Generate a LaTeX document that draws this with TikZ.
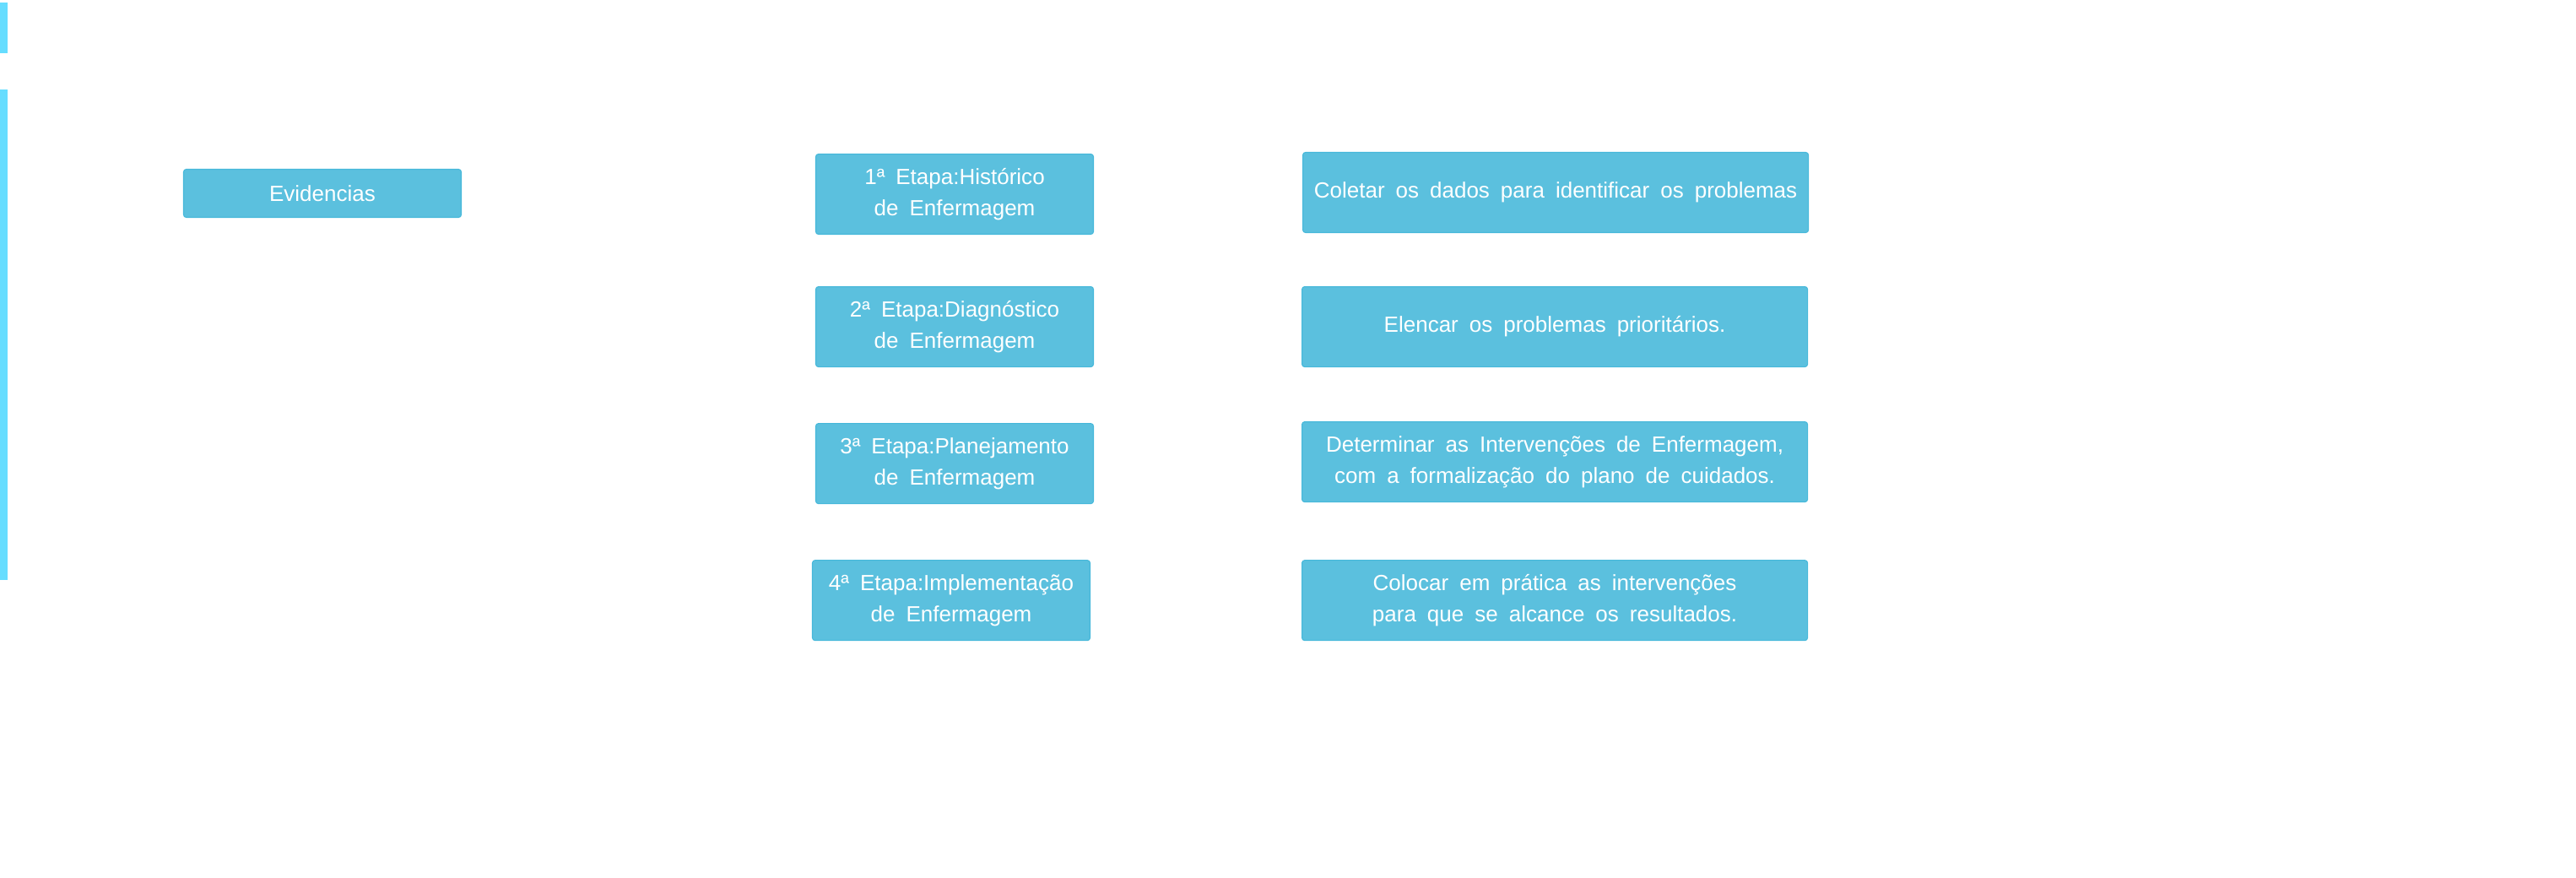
\documentclass[tikz,border=0pt]{standalone}
\usepackage{fontspec}
\setmainfont{Liberation Sans}
\usetikzlibrary{positioning}
\definecolor{infofill}{HTML}{5BC0DE}
\definecolor{infoline}{HTML}{46B8DA}
\definecolor{barcyan}{HTML}{66DDFF}
\protected\def\stepfont{\fontsize{7.4}{10.5}\selectfont\spaceskip0.5em\relax}

\begin{document}
\begin{tikzpicture}[
    node distance=0.66cm,
    stepnode/.style={
        rectangle, rounded corners=0.9pt, draw=infoline, line width=0.3pt,
        fill=infofill, text=white, align=center, inner sep=0pt,
        font=\stepfont
      },
    evbox/.style={stepnode, minimum width=3.29cm, minimum height=0.57cm},
    etapabox/.style={stepnode, minimum width=3.29cm, minimum height=0.95cm},
    descbox/.style={stepnode, minimum width=5.99cm, minimum height=0.95cm},
  ]
  \useasboundingbox (0,0) rectangle (30.52,-10.40);
  \fill[barcyan] (0,-0.03) rectangle (0.09,-0.63);
  \fill[barcyan] (0,-1.06) rectangle (0.09,-6.87);
  \node[evbox] (Ev) at (3.82,-2.29) {Evidencias};
  \node[etapabox] (E1) at (11.31,-2.30) {1ª Etapa:Histórico\\de Enfermagem};
  \node[etapabox] (E2) [below=0.61cm of E1] {2ª Etapa:Diagnóstico\\de Enfermagem};
  \node[etapabox] (E3) [below=of E2] {3ª Etapa:Planejamento\\de Enfermagem};
  \node[etapabox] (E4) [below=of E3, xshift=-0.04cm] {4ª Etapa:Implementação\\de Enfermagem};
  \node[descbox] (D1) [right=2.47cm of E1, yshift=0.02cm] {Coletar os dados para identificar os problemas};
  \node[descbox] (D2) [right=2.46cm of E2] {Elencar os problemas prioritários.};
  \node[descbox] (D3) [right=2.46cm of E3, yshift=0.02cm] {Determinar as Intervenções de Enfermagem,\\com a formalização do plano de cuidados.};
  \node[descbox] (D4) [right=2.50cm of E4] {Colocar em prática as intervenções\\para que se alcance os resultados.};
  \end{tikzpicture}
\end{document}
